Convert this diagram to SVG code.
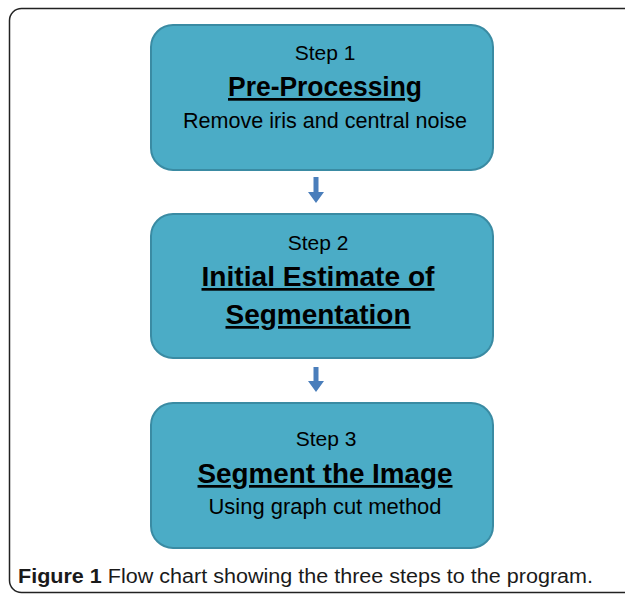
<svg xmlns="http://www.w3.org/2000/svg" width="625" height="596" viewBox="0 0 625 596">
<style>
.box{fill:#4BACC6;stroke:#3A8BA3;stroke-width:2}
.t{font-family:"Liberation Sans",Arial,sans-serif;fill:#000;text-anchor:middle}
.step{font-size:21px}
.title{font-size:27px;font-weight:bold;text-decoration:underline}
.sub{font-size:22px}
.cap{font-family:"Liberation Sans",Arial,sans-serif;font-size:20px;fill:#1a1a1a}
.arr{fill:#4A7EBB}
</style>
<rect x="9.5" y="8.5" width="640" height="584" rx="12" fill="#fff" stroke="#222" stroke-width="1.5"/>
<g id="step1">
<rect class="box" x="151" y="25" width="342" height="145" rx="22"/>
<text class="t step" x="325" y="60">Step 1</text>
<text class="t title" x="325" y="96" textLength="194" lengthAdjust="spacingAndGlyphs">Pre-Processing</text>
<text class="t sub" x="325" y="128" textLength="284" lengthAdjust="spacingAndGlyphs">Remove iris and central noise</text>
</g>
<g id="step2">
<rect class="box" x="151" y="214" width="342" height="144" rx="22"/>
<text class="t step" x="318" y="250">Step 2</text>
<text class="t title" x="318" y="286" textLength="233" lengthAdjust="spacingAndGlyphs">Initial Estimate of</text>
<text class="t title" x="318" y="324" textLength="185" lengthAdjust="spacingAndGlyphs">Segmentation</text>
</g>
<g id="step3">
<rect class="box" x="151" y="403" width="342" height="145" rx="22"/>
<text class="t step" x="326" y="446">Step 3</text>
<text class="t title" x="325" y="483" textLength="255" lengthAdjust="spacingAndGlyphs">Segment the Image</text>
<text class="t sub" x="325" y="514" textLength="233" lengthAdjust="spacingAndGlyphs">Using graph cut method</text>
</g>
<g id="connectors">
<path class="arr" d="M313.5 177 H318.5 V192 H324 L316 203 L308 192 H313.5 Z"/>
<path class="arr" d="M313.5 367 H318.5 V381 H324 L316 392 L308 381 H313.5 Z"/>
</g>
<text class="cap" x="18" y="583" textLength="575" lengthAdjust="spacingAndGlyphs"><tspan font-weight="bold">Figure 1</tspan> Flow chart showing the three steps to the program.</text>
</svg>
